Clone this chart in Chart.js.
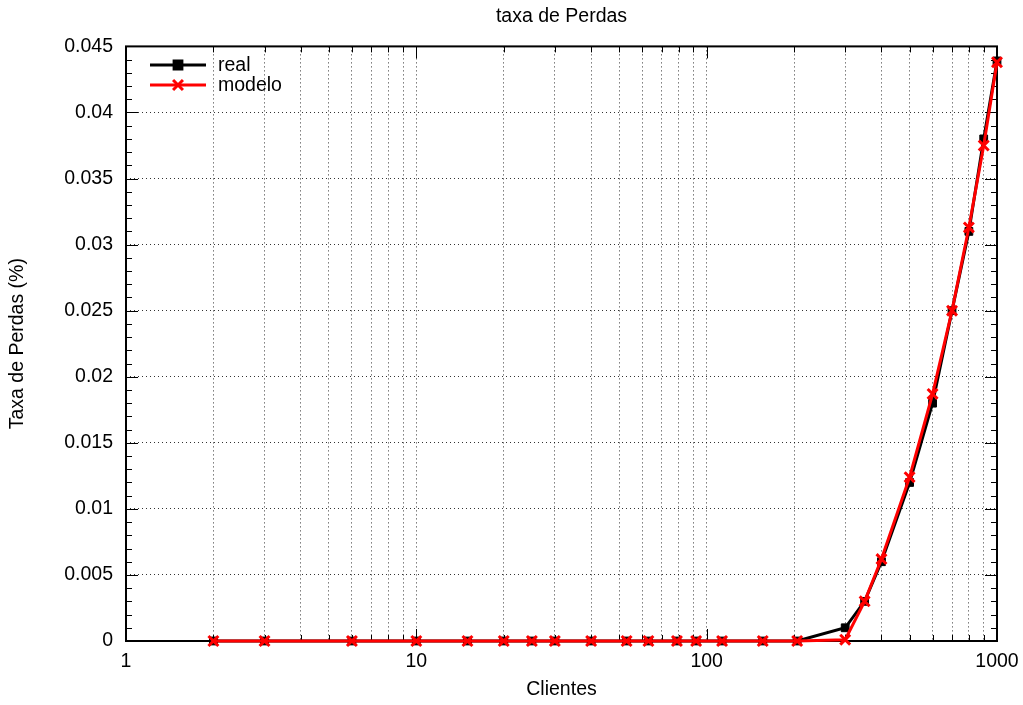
<!DOCTYPE html>
<html>
<head>
<meta charset="utf-8">
<title>taxa de Perdas</title>
<script src="https://cdn.jsdelivr.net/npm/chart.js@4.4.1/dist/chart.umd.min.js"></script>
<style>
  html, body { margin: 0; padding: 0; background: #fff; }
  #wrap { width: 1023px; height: 705px; }
</style>
</head>
<body>
<div id="wrap"><canvas id="lossChart" width="1023" height="705"></canvas></div>
<script>
"use strict";

// eixo x (log): numero de clientes
var clientes = [2, 3, 6, 10, 15, 20, 25, 30, 40, 53, 63, 79, 92, 113, 156, 205,
                300, 350, 400, 500, 600, 700, 800, 900, 1000];
// taxa de perdas medida
var real = [0, 0, 0, 0, 0, 0, 0, 0, 0, 0, 0, 0, 0, 0, 0, 0,
            0.001, 0.003, 0.006, 0.012, 0.018, 0.025, 0.031, 0.038, 0.0439];
// taxa de perdas do modelo
var modelo = [0, 0, 0, 0, 0, 0, 0, 0, 0, 0, 0, 0, 0, 0, 0, 0,
              0.0001, 0.003, 0.0062, 0.0124, 0.0187, 0.025, 0.0313, 0.0375, 0.0438];

var xTicks = [1, 2, 3, 4, 5, 6, 7, 8, 9,
              10, 20, 30, 40, 50, 60, 70, 80, 90,
              100, 200, 300, 400, 500, 600, 700, 800, 900, 1000];
var xLabels = [1, 10, 100, 1000];
var yTicks = [0, 0.005, 0.01, 0.015, 0.02, 0.025, 0.03, 0.035, 0.04, 0.045];
var yMinorTicks = [0.001, 0.002, 0.003, 0.004, 0.006, 0.007, 0.008, 0.009,
                   0.011, 0.012, 0.013, 0.014, 0.016, 0.017, 0.018, 0.019,
                   0.021, 0.022, 0.023, 0.024, 0.026, 0.027, 0.028, 0.029,
                   0.031, 0.032, 0.033, 0.034, 0.036, 0.037, 0.038, 0.039,
                   0.041, 0.042, 0.043, 0.044];

var FONT = "'Liberation Sans', Arial, Helvetica, sans-serif";
var FSIZE = 19.5;

Chart.defaults.font.family = FONT;
Chart.defaults.font.size = FSIZE;
Chart.defaults.color = "#000";

var realStyle = { color: "#000", pointStyle: "rect", radius: 5.5, borderWidth: 1 };
var modeloStyle = { color: "#ff0000", pointStyle: "crossRot", radius: 7, borderWidth: 3 };

// moldura + ticks para dentro (estilo gnuplot)
var framePlugin = {
  id: "frame",
  beforeDatasetsDraw: function(chart) {
    var ctx = chart.ctx, a = chart.chartArea;
    var xs = chart.scales.x, ys = chart.scales.y;
    ctx.save();
    ctx.strokeStyle = "#000";
    ctx.lineWidth = 1;
    ctx.beginPath();
    xTicks.forEach(function(v) {
      var px = Math.round(xs.getPixelForValue(v)) + 0.5;
      var len = xLabels.indexOf(v) >= 0 ? 12 : 6;
      ctx.moveTo(px, a.bottom); ctx.lineTo(px, a.bottom - len);
      ctx.moveTo(px, a.top); ctx.lineTo(px, a.top + len);
    });
    yTicks.concat(yMinorTicks).forEach(function(v) {
      var py = Math.round(ys.getPixelForValue(v)) + 0.5;
      var len = yTicks.indexOf(v) >= 0 ? 12 : 6;
      ctx.moveTo(a.left, py); ctx.lineTo(a.left + len, py);
      ctx.moveTo(a.right, py); ctx.lineTo(a.right - len, py);
    });
    ctx.stroke();
    ctx.lineWidth = 2;
    ctx.strokeRect(a.left, a.top, a.right - a.left, a.bottom - a.top);
    ctx.restore();
  }
};

// legenda no canto superior esquerdo
var keyPlugin = {
  id: "key",
  afterDatasetsDraw: function(chart) {
    var ctx = chart.ctx;
    var items = [
      { text: "real", st: realStyle, y: 65 },
      { text: "modelo", st: modeloStyle, y: 85 }
    ];
    ctx.save();
    items.forEach(function(it) {
      ctx.strokeStyle = it.st.color;
      ctx.fillStyle = it.st.color;
      ctx.lineWidth = 3;
      ctx.beginPath();
      ctx.moveTo(150, it.y);
      ctx.lineTo(206, it.y);
      ctx.stroke();
      Chart.helpers.drawPoint(ctx, {
        pointStyle: it.st.pointStyle,
        radius: it.st.radius,
        borderWidth: it.st.borderWidth,
        rotation: 0
      }, 178, it.y);
      ctx.fillStyle = "#000";
      ctx.font = FSIZE + "px " + FONT;
      ctx.textBaseline = "middle";
      ctx.textAlign = "left";
      ctx.fillText(it.text, 218, it.y + 1);
    });
    ctx.restore();
  }
};

function series(label, ys, st, order) {
  return {
    label: label,
    data: clientes.map(function(c, i) { return { x: c, y: ys[i] }; }),
    borderColor: st.color,
    backgroundColor: st.color,
    borderWidth: 3,
    pointStyle: st.pointStyle,
    pointRadius: st.radius,
    pointBorderWidth: st.borderWidth,
    pointBorderColor: st.color,
    pointBackgroundColor: st.color,
    tension: 0,
    clip: false,
    order: order
  };
}

var ctxL = document.getElementById("lossChart").getContext("2d");
var lossChart = new Chart(ctxL, {
  type: "line",
  data: {
    datasets: [
      series("real", real, realStyle, 2),
      series("modelo", modelo, modeloStyle, 1)
    ]
  },
  plugins: [framePlugin, keyPlugin],
  options: {
    responsive: false,
    animation: false,
    devicePixelRatio: 1,
    layout: { padding: { left: 0, right: 26, top: 0, bottom: 0 } },
    plugins: {
      legend: { display: false },
      tooltip: { enabled: false },
      title: {
        display: true,
        fullSize: false,
        text: "taxa de Perdas",
        font: { size: FSIZE, weight: "normal" },
        color: "#000",
        padding: { top: 5, bottom: 18 }
      }
    },
    scales: {
      x: {
        type: "logarithmic",
        min: 1,
        max: 1000,
        afterBuildTicks: function(scale) {
          scale.ticks = xTicks.map(function(v) { return { value: v }; });
        },
        afterFit: function(scale) {
          scale.height = 64;
          scale.paddingLeft = 0;
          scale.paddingRight = 0;
        },
        ticks: {
          autoSkip: false,
          maxRotation: 0,
          padding: 9,
          callback: function(v) {
            return xLabels.indexOf(v) >= 0 ? String(v) : "";
          }
        },
        grid: { color: "rgba(0,0,0,0.8)", lineWidth: 1, drawTicks: false },
        border: { display: false, dash: [1, 3] },
        title: { display: true, text: "Clientes", padding: { top: 0, bottom: 4 } }
      },
      y: {
        type: "linear",
        min: 0,
        max: 0.045,
        afterBuildTicks: function(scale) {
          scale.ticks = yTicks.map(function(v) { return { value: v }; });
        },
        afterFit: function(scale) { scale.width = 126; },
        ticks: {
          padding: 13,
          callback: function(v) { return String(+Number(v).toFixed(3)); }
        },
        grid: { color: "rgba(0,0,0,0.8)", lineWidth: 1, drawTicks: false },
        border: { display: false, dash: [1, 3] },
        title: { display: true, text: "Taxa de Perdas (%)", padding: { top: 6, bottom: 1 } }
      }
    }
  }
});
</script>
</body>
</html>
